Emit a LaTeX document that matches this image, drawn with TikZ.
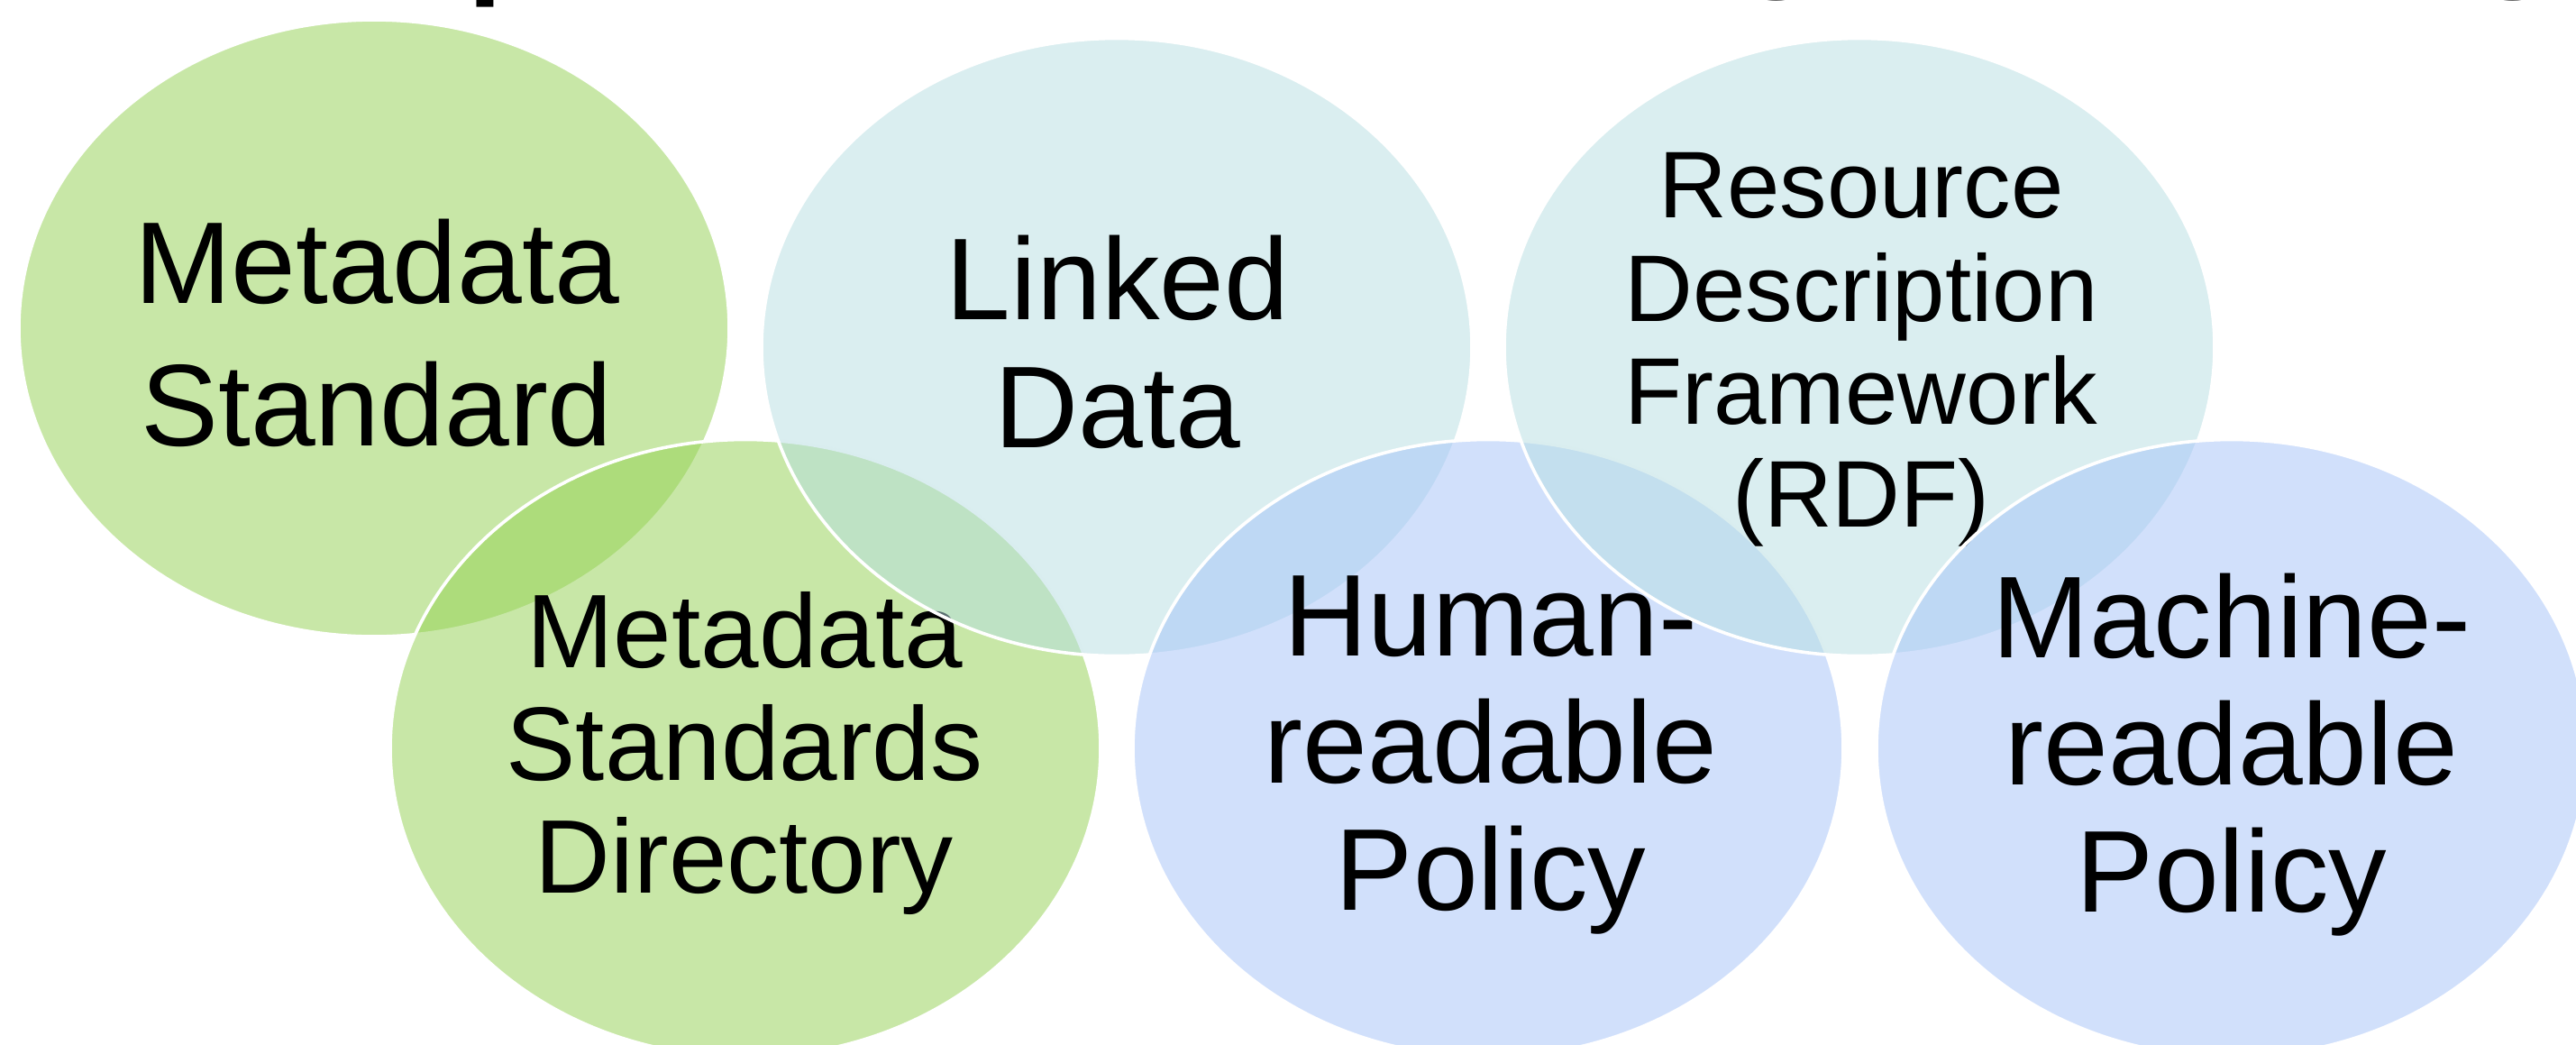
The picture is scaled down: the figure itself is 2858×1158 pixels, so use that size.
\documentclass[tikz,border=0pt]{standalone}
\usepackage{fontspec}
\setmainfont{Liberation Sans}
\usetikzlibrary{shapes.geometric}
\definecolor{vgreen}{RGB}{146,208,80}
\definecolor{vcyan}{RGB}{181,221,225}
\definecolor{vblue}{RGB}{164,194,248}
\tikzset{
  venn/.style={ellipse, minimum width=197pt, minimum height=171.25pt, inner sep=0pt,
    draw=white, line width=0.9pt, fill opacity=0.5, draw opacity=1},
  lbl/.style={align=center, inner sep=0pt, text=black},
  frag/.style={inner sep=0pt, anchor=base west, text=black, font=\fontsize{53.75pt}{60pt}\selectfont},
}
\begin{document}
\begin{tikzpicture}[x=0.25pt,y=-0.25pt]
\useasboundingbox (0,0) rectangle (2858,1158);
% clipped fragments of the title above
\node[frag] (t1) at (514,-37) {p};
\node[frag] (t2) at (1913,-43.5) {g};
\node[frag] (t3) at (2730,-43.5) {g};
% Metadata Standard
\node[venn, fill=vgreen, minimum height=171pt] (ms) at (415,364) {};
\node[lbl, font=\fontsize{32.25pt}{39.5pt}\selectfont] (mst) at (418,369) {Metadata\\Standard};
% Metadata Standards Directory
\node[venn, fill=vgreen] (msd) at (827,830) {};
\node[lbl, font=\fontsize{29pt}{31.25pt}\selectfont] (msdt) at (826,835) {Metadata\\Standards\\Directory};
% Linked Data
\node[venn, fill=vcyan] (ld) at (1239,385) {};
\node[lbl, font=\fontsize{32.25pt}{35.5pt}\selectfont] (ldt) at (1240,379) {Linked\\Data};
% Human-readable Policy
\node[venn, fill=vblue] (hrp) at (1651,830) {};
\node[lbl, font=\fontsize{32.25pt}{35.25pt}\selectfont] (hrpt) at (1654,837) {Human-\\readable\\Policy};
% Resource Description Framework
\node[venn, fill=vcyan] (rdf) at (2063,385) {};
\node[lbl, font=\fontsize{26.25pt}{28.6pt}\selectfont] (rdft) at (2065,388) {Resource\\Description\\Framework\\(RDF)};
% Machine-readable Policy
\node[venn, fill=vblue] (mrp) at (2476,830) {};
\node[lbl, font=\fontsize{32.25pt}{35.25pt}\selectfont] (mrpt) at (2476,837) {Machine-\\readable\\Policy};
\end{tikzpicture}
\end{document}
